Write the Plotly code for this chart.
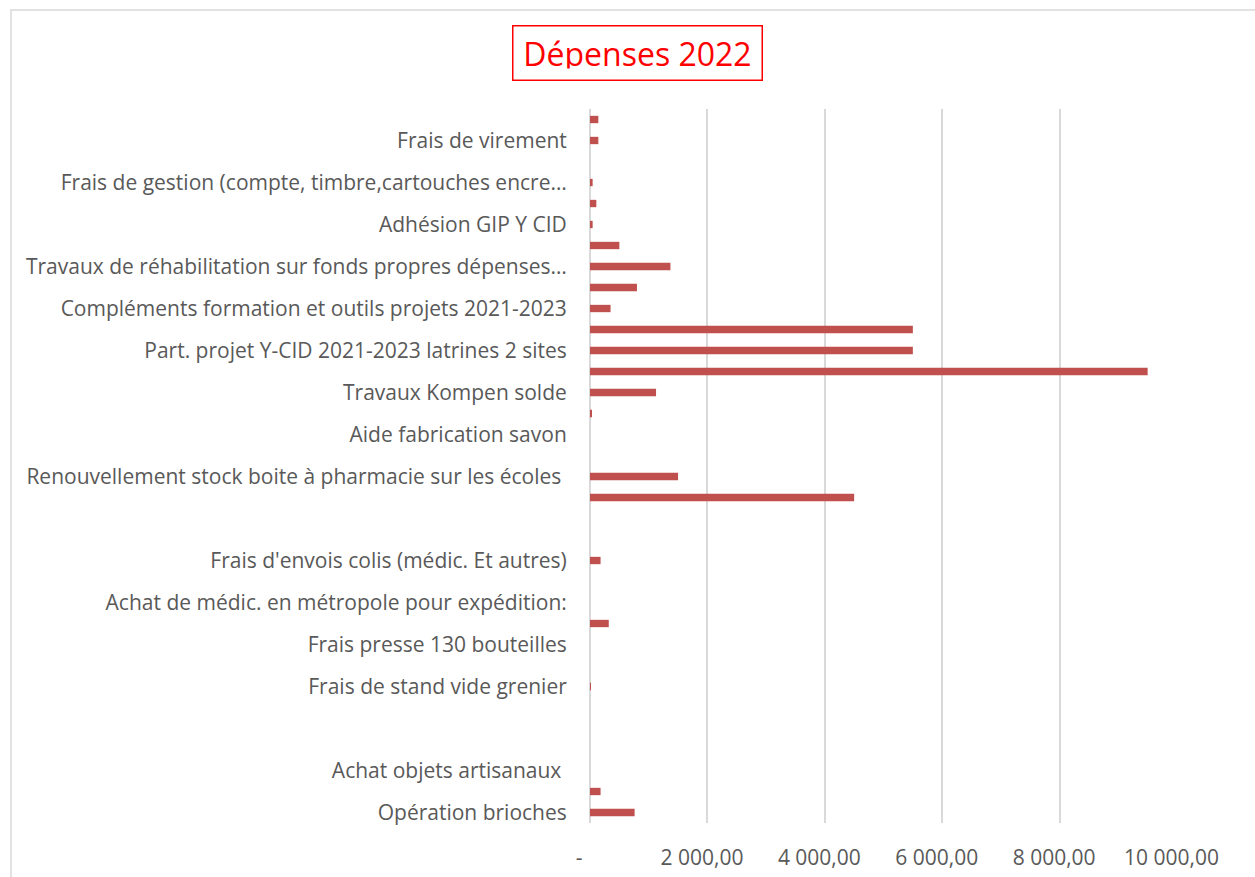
import plotly.graph_objects as go

# Categories listed top to bottom, as they appear; "" = label not shown
categories = [
    "", "Frais de virement",
    "", "Frais de gestion (compte, timbre,cartouches encre…",
    "", "Adhésion GIP Y CID",
    "", "Travaux de réhabilitation sur fonds propres dépenses…",
    "", "Compléments formation et outils projets 2021-2023",
    "", "Part. projet Y-CID 2021-2023 latrines 2 sites",
    "", "Travaux Kompen solde",
    "", "Aide fabrication savon",
    "", "Renouvellement stock boite à pharmacie sur les écoles ",
    "", "",
    "", "Frais d'envois colis (médic. Et autres)",
    "", "Achat de médic. en métropole pour expédition:",
    "", "Frais presse 130 bouteilles",
    "", "Frais de stand vide grenier",
    "", "",
    "", "Achat objets artisanaux ",
    "", "Opération brioches",
]
values = [
    142, 142,
    0, 45,
    108, 45,
    500, 1370,
    800, 350,
    5500, 5500,
    9500, 1125,
    20, 0,
    0, 1500,
    4500, 0,
    0, 180,
    0, 0,
    320, 0,
    0, 12,
    0, 0,
    0, 0,
    180, 760,
]
x_ticks = [0, 2000, 4000, 6000, 8000, 10000]
x_tick_labels = ["-", "2 000,00", "4 000,00", "6 000,00", "8 000,00", "10 000,00"]
title_text = "Dépenses 2022"

W, H = 1255, 877
ML, MR, MT, MB = 590, 78, 109, 54
pw, ph = W - ML - MR, H - MT - MB

def px_x(px):
    return (px - ML) / pw

def px_y(py):
    return 1 - (py - MT) / ph

positions = list(range(len(categories)))
label_pos = [i for i in positions if i % 2 == 1]
label_txt = [categories[i] for i in label_pos]

# Excel accounting format pads labels on the right (the "-" more so)
NB = "\u00a0"
x_tick_text = [t + NB * (4 if t == "-" else 2) for t in x_tick_labels]

grey = "#595959"
grid = "#D9D9D9"

fig = go.Figure(go.Bar(
    x=values, y=positions, orientation="h",
    marker=dict(color="#C0504D", line=dict(width=0)),
    hoverinfo="x",
))

fig.update_layout(
    width=W, height=H,
    margin=dict(l=ML, r=MR, t=MT, b=MB, autoexpand=False),
    paper_bgcolor="white", plot_bgcolor="white",
    bargap=0.65,
    showlegend=False,
    font=dict(family="Open Sans", color=grey, size=21),
    xaxis=dict(
        range=[0, 10000], tickvals=x_ticks, ticktext=x_tick_text,
        showgrid=True, gridcolor=grid, gridwidth=1.5,
        zeroline=True, zerolinecolor=grid, zerolinewidth=1.5,
        showline=False, ticks="outside", ticklen=16,
        tickcolor="rgba(0,0,0,0)", tickfont=dict(size=21, color=grey),
        fixedrange=True,
    ),
    yaxis=dict(
        range=[len(categories) - 0.5, -0.5],
        tickvals=label_pos, ticktext=label_txt,
        showgrid=False, zeroline=False, showline=False,
        ticks="outside", ticklen=18, tickcolor="rgba(0,0,0,0)",
        tickfont=dict(size=21, color=grey),
        fixedrange=True,
    ),
    annotations=[dict(
        text=title_text, xref="paper", yref="paper",
        x=px_x(637.8), y=px_y(52.5), xanchor="center", yanchor="middle",
        showarrow=False, font=dict(family="Open Sans", size=32, color="#FF0000"),
        bordercolor="#FF0000", borderwidth=1.5, borderpad=11,
        bgcolor="white", width=226, height=31,
    )],
    shapes=[dict(
        type="rect", xref="paper", yref="paper",
        x0=px_x(11), x1=px_x(W + 10), y0=px_y(H + 10), y1=px_y(10),
        line=dict(color=grid, width=1.5), fillcolor="rgba(0,0,0,0)",
        layer="below",
    )],
)

fig.write_html(
    "out.html",
    config={"displayModeBar": False},
    post_script="document.body.style.margin='0';document.body.style.overflow='hidden';",
)
